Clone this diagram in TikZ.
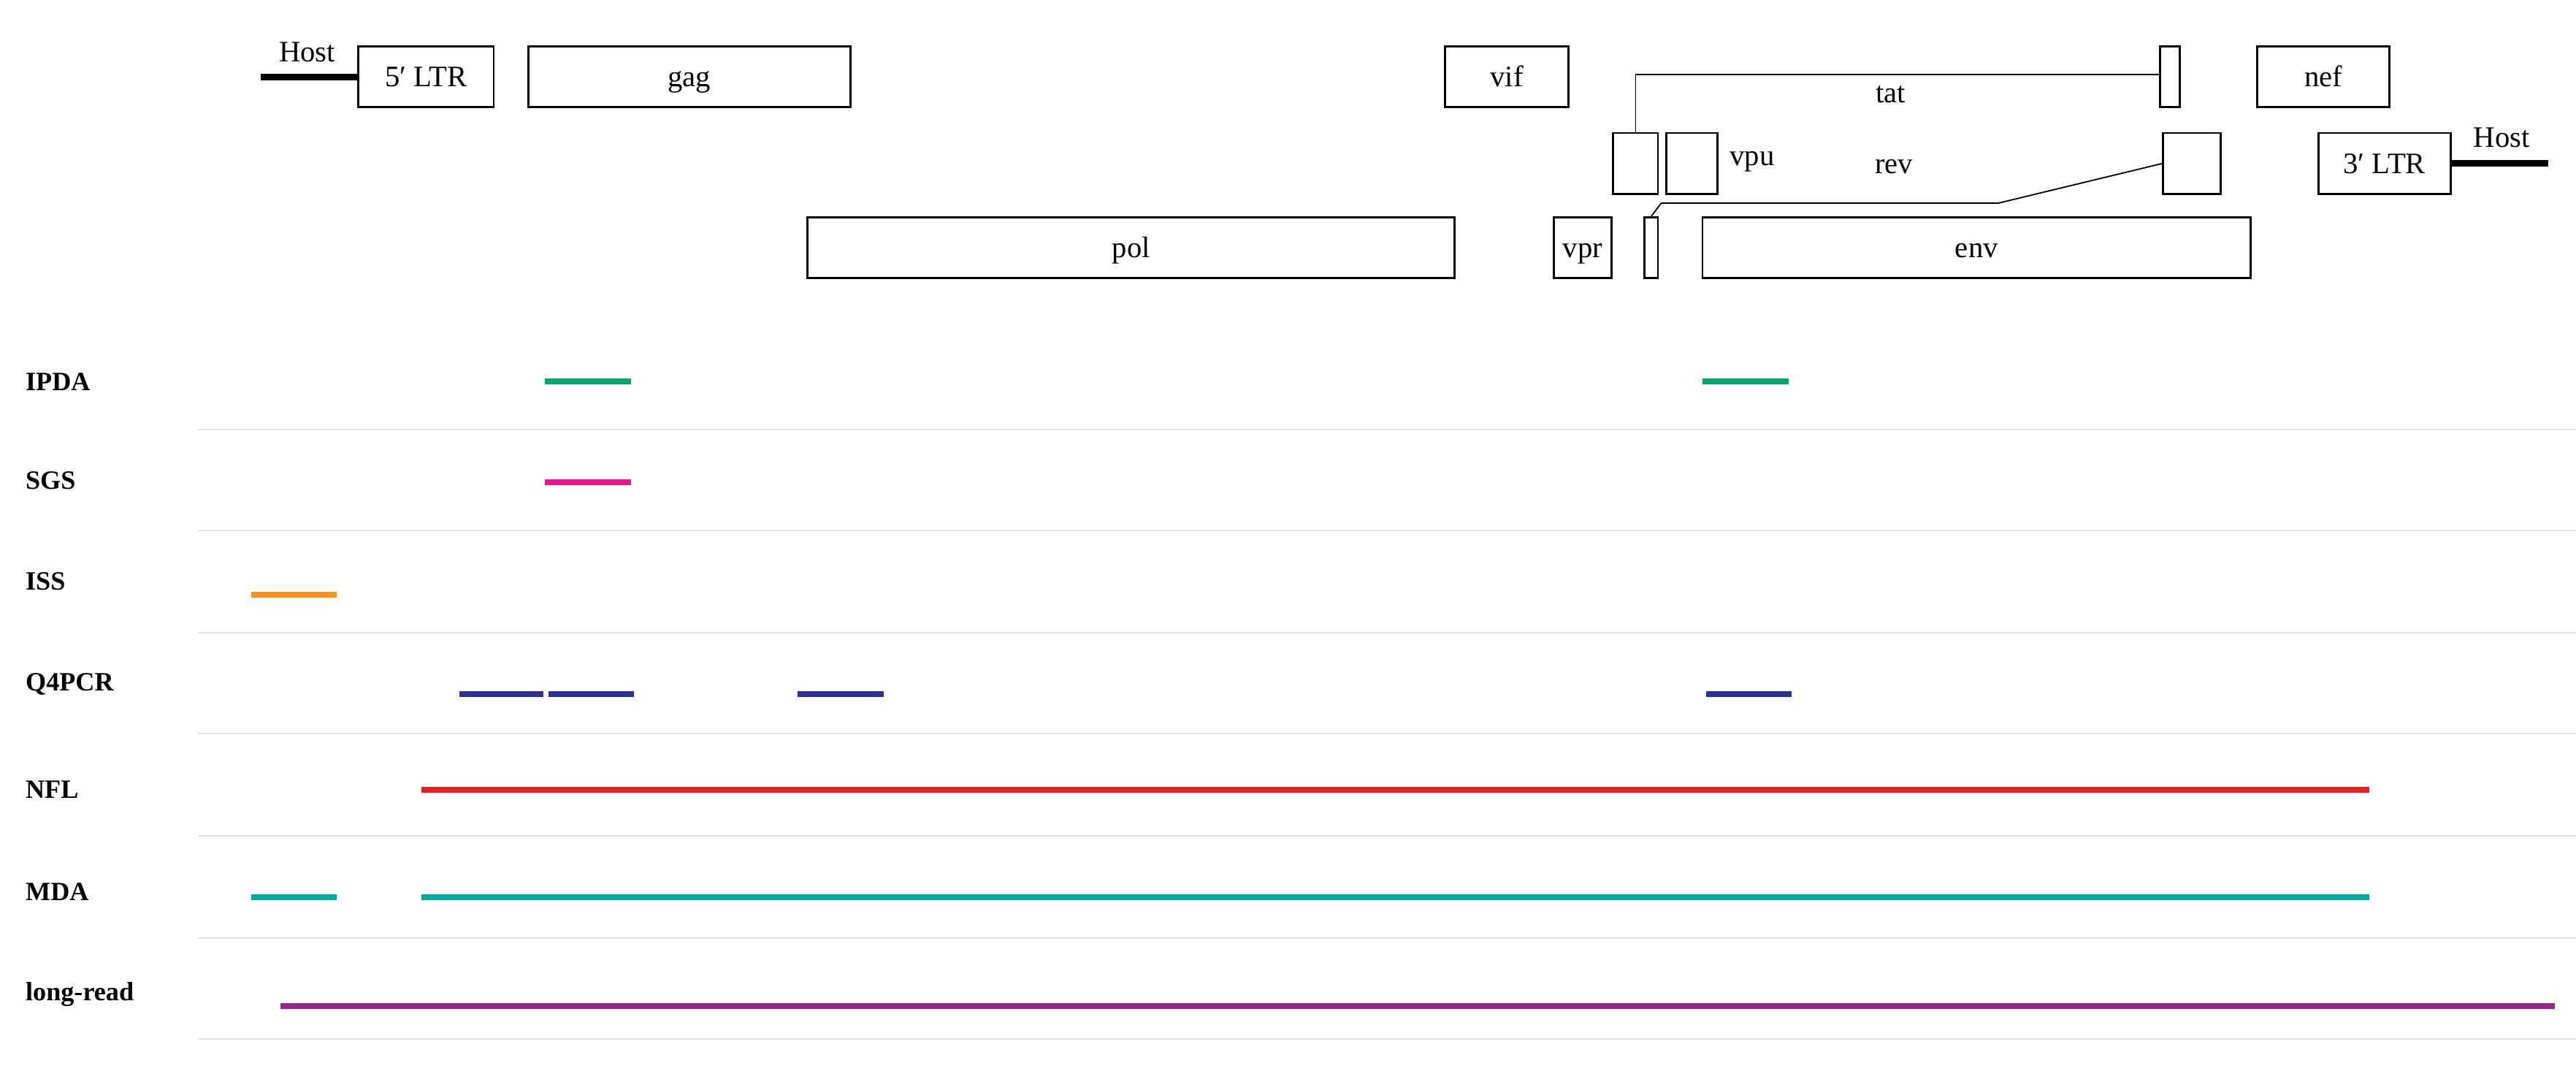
\documentclass[tikz,border=0pt]{standalone}
\usepackage{fontspec}
\setmainfont{Liberation Serif}
\begin{document}
\begin{tikzpicture}[x=1pt,y=-1pt,
  box/.style={draw,line width=1.3pt,inner sep=0pt,minimum height=37pt,text height=14pt,text depth=2pt,font=\fontsize{18}{18}\selectfont},
  lbl/.style={font=\fontsize{18}{18}\selectfont},
  trk/.style={font=\bfseries\fontsize{16}{16}\selectfont,anchor=west},
  sep/.style={draw=black!12,line width=0.8pt},
  seg/.style={line width=3.5pt},
  host/.style={line width=4pt}]
\useasboundingbox (0,0) rectangle (1560,645);
% genome boxes
\node[box,minimum width=82pt] (ltr5) at (258,46.5) {5′ LTR};
\node[box,minimum width=195pt] (gag) at (417.5,46.5) {gag};
\node[box,minimum width=75pt] (vif) at (912.5,46.5) {vif};
\node[box,minimum width=12pt] (tat2) at (1314,46.5) {};
\node[box,minimum width=80pt] (nef) at (1407,46.5) {nef};
\node[box,minimum width=27pt] (tat1) at (990.5,99) {};
\node[box,minimum width=31pt] (vpu) at (1024.5,99) {};
\node[lbl] (vpul) at (1061,98) {vpu};
\node[lbl] (revl) at (1147,101) {rev};
\node[box,minimum width=35pt] (rev2) at (1327.5,99) {};
\node[box,minimum width=80pt] (ltr3) at (1444,99) {3′ LTR};
\node[box,minimum width=392pt] (pol) at (685,150) {pol};
\node[box,minimum width=35pt] (vpr) at (958.5,150) {vpr};
\node[box,minimum width=8pt] (rev1) at (1000,150) {};
\node[box,minimum width=332pt] (env) at (1197,150) {env};
\node[lbl] (tatl) at (1145,57) {tat};
% host lines
\coordinate (h1) at (158,46.5);
\coordinate (h2) at (1543,99);
\draw[host] (h1) -- (ltr5.west);
\draw[host] (ltr3.east) -- (h2);
\node[lbl,anchor=south] (hostl) at (186,41) {Host};
\node[lbl,anchor=south] (hostr) at (1515,93) {Host};
% splice lines
\draw[line width=0.8pt] (tat1.north) -- (tat1.north |- 0,45) -- (tat2.west |- 0,45);
\draw[line width=0.8pt] (rev1.north) -- (1006,123) -- (1210,123) -- (rev2.west);
% tracks
\foreach \n/\t/\y in {a/IPDA/231,b/SGS/291,c/ISS/352,d/Q4PCR/414,e/NFL/478,f/MDA/540,g/long-read/602}
  \node[trk] (\n) at (12,\y) {\t};
\foreach \y in {260,321,383,444,506,568,629}
  \draw[sep] (120,\y) -- (1560,\y);
\definecolor{cg}{RGB}{0,166,108}
\definecolor{cp}{RGB}{236,20,140}
\definecolor{co}{RGB}{247,148,29}
\definecolor{cn}{RGB}{46,49,146}
\definecolor{cr}{RGB}{237,28,36}
\definecolor{ct}{RGB}{0,169,157}
\definecolor{cu}{RGB}{146,39,143}
\draw[seg,cg] (330,231) -- (382,231);
\draw[seg,cg] (1031,231) -- (1083,231);
\draw[seg,cp] (330,292) -- (382,292);
\draw[seg,co] (152,360) -- (204,360);
\draw[seg,cn] (278,420) -- (329,420);
\draw[seg,cn] (332,420) -- (384,420);
\draw[seg,cn] (483,420) -- (535,420);
\draw[seg,cn] (1033,420) -- (1085,420);
\draw[seg,cr] (255,478) -- (1435,478);
\draw[seg,ct] (152,543) -- (204,543);
\draw[seg,ct] (255,543) -- (1435,543);
\draw[seg,cu] (170,609) -- (1547,609);
\end{tikzpicture}
\end{document}
